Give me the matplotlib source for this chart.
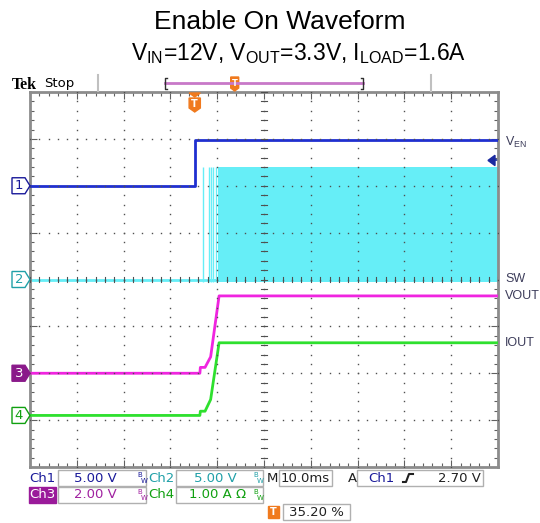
import numpy as np
import matplotlib
matplotlib.use('Agg')
import matplotlib.pyplot as plt
from matplotlib.patches import Polygon, Rectangle
from matplotlib.lines import Line2D
from matplotlib import transforms

plt.rcParams['font.family'] = ['DejaVu Sans']
plt.rcParams['mathtext.fontset'] = 'custom'
plt.rcParams['mathtext.rm'] = 'Liberation Sans'

W, H = 540, 523

# Scope settings
time_div = 10.0      # ms/div
n_xdiv, n_ydiv = 10, 8
trig_pos = 35.20     # % of record
trig_level = 2.70    # V on Ch1

ch_names = ['Ch1', 'Ch2', 'Ch3', 'Ch4']
ch_scale = [5.0, 5.0, 2.0, 1.0]          # units/div
ch_offset = [2.0, 0.0, -2.0, -2.9]       # div from screen centre
ch_labels = ['V$_{\\mathrm{EN}}$', 'SW', 'VOUT', 'IOUT']
ch_colors = ['#1f2fd0', '#66eef7', '#f024e0', '#2ee02e']
ch_text_colors = ['#1a1a9a', '#20a0a8', '#a020a0', '#10a010']
ch_readout = ['5.00 V', '5.00 V', '2.00 V', '1.00 A \u03a9']

# Waveform values (time in ms)
en_t = [0, 35.2, 35.2, 100]
en_v = [0, 0, 4.83, 4.83]

sw_sparse_t = [37.0, 38.2, 38.6, 39.0, 39.7]
sw_start = 40.2
sw_high = 12.0
sw_low = -0.3

vout_t = [0, 36.3, 36.4, 37.4, 38.6, 40.4, 100]
vout_v = [0, 0, 0.25, 0.25, 0.7, 3.3, 3.3]

iout_t = [0, 36.3, 36.4, 37.4, 38.6, 40.4, 100]
iout_v = [0, 0, 0.09, 0.09, 0.34, 1.55, 1.55]


def to_div(ch, v):
    return n_ydiv / 2 + ch_offset[ch] + np.asarray(v, dtype=float) / ch_scale[ch]


fig = plt.figure(figsize=(W / 100, H / 100), dpi=100)
fig.patch.set_facecolor('white')
ax = fig.add_axes([30 / W, 1 - 467 / H, 468 / W, 375 / H])
t_max = n_xdiv * time_div
ax.set_xlim(0, t_max)
ax.set_ylim(0, n_ydiv)


def ftext(x, y, s, **kw):
    return fig.text(x / W, 1 - y / H, s, **kw)


def fbox(x0, y0, x1, y1, fc='white', ec='#b0b0b0', lw=1.0):
    fig.add_artist(Rectangle((x0 / W, 1 - y1 / H), (x1 - x0) / W, (y1 - y0) / H,
                             transform=fig.transFigure, fc=fc, ec=ec, lw=lw))


# --- traces ---
ax.plot(en_t, to_div(0, en_v), color=ch_colors[0], lw=2.0, zorder=3)

ax.plot([0, t_max], to_div(1, [0, 0]), color=ch_colors[1], lw=2.0, zorder=2)
ax.vlines(sw_sparse_t, to_div(1, sw_low), to_div(1, sw_high), color=ch_colors[1], lw=1.0, zorder=2)
ax.fill_between([sw_start, t_max], to_div(1, sw_low), to_div(1, sw_high),
                color=ch_colors[1], lw=0, zorder=2)

ax.plot(vout_t, to_div(2, vout_v), color=ch_colors[2], lw=2.0, zorder=3)
ax.plot(iout_t, to_div(3, iout_v), color=ch_colors[3], lw=2.0, zorder=3)

# --- graticule ---
gc = '#505050'
for k in range(1, n_xdiv):
    ys = np.arange(0, n_ydiv + 0.01, 0.2)
    ax.plot(np.full_like(ys, k * time_div), ys, ls='none', marker='s', ms=1.0,
            color=gc, mew=0, zorder=5)
for k in range(1, n_ydiv):
    xs = np.arange(0, t_max + 0.01, time_div / 5)
    ax.plot(xs, np.full_like(xs, k), ls='none', marker='s', ms=1.0,
            color=gc, mew=0, zorder=5)
# centre crosshair ticks
cx, cy = t_max / 2, n_ydiv / 2
for y in np.arange(0, n_ydiv + 0.01, 0.2):
    ax.plot([cx - 0.7, cx + 0.7], [y, y], color=gc, lw=0.8, zorder=5)
for x in np.arange(0, t_max + 0.01, time_div / 5):
    ax.plot([x, x], [cy - 0.06, cy + 0.06], color=gc, lw=0.8, zorder=5)

ax.set_xticks(np.arange(0, t_max + 0.1, time_div))
ax.set_yticks(np.arange(0, n_ydiv + 0.1, 1))
ax.set_xticks(np.arange(0, t_max + 0.1, time_div / 5), minor=True)
ax.set_yticks(np.arange(0, n_ydiv + 0.1, 0.2), minor=True)
ax.tick_params(which='both', direction='in', top=True, right=True,
               labelbottom=False, labelleft=False, color='#606060')
ax.tick_params(which='major', length=5, width=0.8)
ax.tick_params(which='minor', length=3, width=0.8)
for s in ax.spines.values():
    s.set_color('#8c8c8c')
    s.set_linewidth(2.0)

# --- channel markers on the left ---
blend = transforms.blended_transform_factory(fig.transFigure, ax.transData)
hh = 8 / 46.9
for i in range(4):
    y0 = float(to_div(i, 0))
    pts = [(12 / W, y0 - hh), (25 / W, y0 - hh), (30 / W, y0), (25 / W, y0 + hh), (12 / W, y0 + hh)]
    if i == 2:
        fc, ec, tc = '#8a1a8a', '#8a1a8a', 'white'
    else:
        fc, ec, tc = 'white', ch_text_colors[i], ch_text_colors[i]
    ax.add_patch(Polygon(pts, closed=True, transform=blend, fc=fc, ec=ec, lw=1.0,
                         clip_on=False, zorder=6))
    ax.text(19 / W, y0, str(i + 1), transform=blend, ha='center', va='center',
            color=tc, fontsize=9.5, clip_on=False, zorder=7)

# --- right labels ---
label_levels = [to_div(0, en_v[-1]), to_div(1, 0), to_div(2, vout_v[-1]), to_div(3, iout_v[-1])]
label_dy = [-0.05, 0, 0, 0]
for i in range(4):
    ax.text(505 / W, float(label_levels[i]) + label_dy[i], ch_labels[i], transform=blend,
            ha='left', va='center', color='#3c3c5a', fontsize=9,
            family='Liberation Sans', clip_on=False)

# trigger level arrow
ty = float(to_div(0, trig_level))
ax.add_patch(Polygon([(488 / W, ty), (495 / W, ty + 0.11), (495 / W, ty - 0.11)], closed=True,
                     transform=blend, fc='#1a2aa0', ec='#1a2aa0', clip_on=False, zorder=6))
ax.plot([494 / W, 498 / W], [ty, ty], transform=blend, color='#1a2aa0', lw=1.2, clip_on=False)

# trigger position marker under top edge
trig_t = trig_pos / 100 * t_max
tb = transforms.blended_transform_factory(ax.transData, fig.transFigure)
orange = '#f07a1e'
ax.add_patch(Polygon([(trig_t - 1.2, 1 - 93 / H), (trig_t + 1.2, 1 - 93 / H), (trig_t, 1 - 97 / H)],
                     closed=True, transform=tb, fc=orange, ec=orange, clip_on=False, zorder=8))
ax.add_patch(Polygon([(trig_t - 1.2, 1 - 98 / H), (trig_t + 1.2, 1 - 98 / H), (trig_t + 1.2, 1 - 108 / H),
                      (trig_t, 1 - 112 / H), (trig_t - 1.2, 1 - 108 / H)],
                     closed=True, transform=tb, fc=orange, ec=orange, clip_on=False, zorder=8))
ax.text(trig_t, 1 - 104 / H, 'T', transform=tb, ha='center', va='center', color='white',
        fontsize=7, fontweight='bold', clip_on=False, zorder=9)

# --- header ---
ftext(280, 22, 'Enable On Waveform', ha='center', va='center', fontsize=19, family='Liberation Sans')
ftext(299, 54, 'V$_{\\mathrm{IN}}$=12V, V$_{\\mathrm{OUT}}$=3.3V, I$_{\\mathrm{LOAD}}$=1.6A',
      ha='center', va='center', fontsize=16.5, family='Liberation Sans')
ftext(12, 85, 'Tek', ha='left', va='center', fontsize=11.5, fontweight='bold', family='Liberation Serif')
ftext(44, 84, 'Stop', ha='left', va='center', fontsize=9.5)
for xs in (98, 431):
    fig.add_artist(Line2D([xs / W, xs / W], [1 - 75 / H, 1 - 91 / H], transform=fig.transFigure,
                          color='#c0c0c0', lw=1.5))
bar_x0, bar_x1, bar_y = 165, 363, 83
fig.add_artist(Line2D([bar_x0 / W, bar_x1 / W], [1 - bar_y / H] * 2, transform=fig.transFigure,
                      color='#c878c8', lw=2))
for xb, d in ((bar_x0, 1), (bar_x1, -1)):
    fig.add_artist(Line2D([(xb + 2 * d) / W, xb / W, xb / W, (xb + 2 * d) / W],
                          [1 - 78 / H, 1 - 78 / H, 1 - 89 / H, 1 - 89 / H],
                          transform=fig.transFigure, color='#303030', lw=1))
mx = bar_x0 + trig_pos / 100 * (bar_x1 - bar_x0)
fig.add_artist(Polygon([((mx - 4) / W, 1 - 77 / H), ((mx + 4) / W, 1 - 77 / H), ((mx + 4) / W, 1 - 88 / H),
                        (mx / W, 1 - 91 / H), ((mx - 4) / W, 1 - 88 / H)],
                       closed=True, transform=fig.transFigure, fc=orange, ec=orange))
ftext(mx, 84, 'T', ha='center', va='center', color='white', fontsize=6, fontweight='bold')


# --- readouts ---
def bw(x, y, color):
    ftext(x, y - 3, 'B', ha='left', va='center', fontsize=5, color=color)
    ftext(x + 3.5, y + 3, 'W', ha='left', va='center', fontsize=5, color=color)


rows = [478, 495]
fs = 9.5
# Ch1 / Ch3 column
for r, ch in enumerate([0, 2]):
    y = rows[r]
    if ch == 2:
        fbox(29, y - 8, 56, y + 8, fc='#9a1a9a', ec='#9a1a9a')
        ftext(42.5, y, ch_names[ch], ha='center', va='center', color='white', fontsize=fs)
    else:
        ftext(42.5, y, ch_names[ch], ha='center', va='center', color=ch_text_colors[ch], fontsize=fs)
    fbox(58, y - 8, 146, y + 8)
    ftext(95, y, ch_readout[ch], ha='center', va='center', color=ch_text_colors[ch], fontsize=fs)
    bw(137, y, ch_text_colors[ch])
# Ch2 / Ch4 column
for r, ch in enumerate([1, 3]):
    y = rows[r]
    ftext(161, y, ch_names[ch], ha='center', va='center', color=ch_text_colors[ch], fontsize=fs)
    fbox(176, y - 8, 263, y + 8)
    if ch == 3:
        ftext(246, y, ch_readout[ch], ha='right', va='center', color=ch_text_colors[ch], fontsize=fs)
    else:
        ftext(215, y, ch_readout[ch], ha='center', va='center', color=ch_text_colors[ch], fontsize=fs)
    bw(253, y, ch_text_colors[ch])

y = rows[0]
ftext(272, y, 'M', ha='center', va='center', color='#202020', fontsize=fs)
fbox(279, y - 8, 332, y + 8)
ftext(305.5, y, '%.1fms' % time_div, ha='center', va='center', color='#202020', fontsize=fs)
ftext(352, y, 'A', ha='center', va='center', color='#202020', fontsize=fs)
fbox(357, y - 8, 483, y + 8)
ftext(381, y, ch_names[0], ha='center', va='center', color=ch_text_colors[0], fontsize=fs)
fig.add_artist(Line2D([403 / W, 406 / W, 409 / W, 413 / W],
                      [1 - 482 / H, 1 - 482 / H, 1 - 474 / H, 1 - 474 / H],
                      transform=fig.transFigure, color='#202020', lw=1.5))
ftext(481, y, '%.2f V' % trig_level, ha='right', va='center', color='#202020', fontsize=fs)

y = 512
fbox(268, y - 6, 279, y + 6, fc=orange, ec=orange)
ftext(273.5, y, 'T', ha='center', va='center', color='white', fontsize=7, fontweight='bold')
fbox(283, y - 8, 350, y + 8)
ftext(316.5, y, '%.2f %%' % trig_pos, ha='center', va='center', color='#202020', fontsize=fs)

fig.savefig('out.png', dpi=100)
